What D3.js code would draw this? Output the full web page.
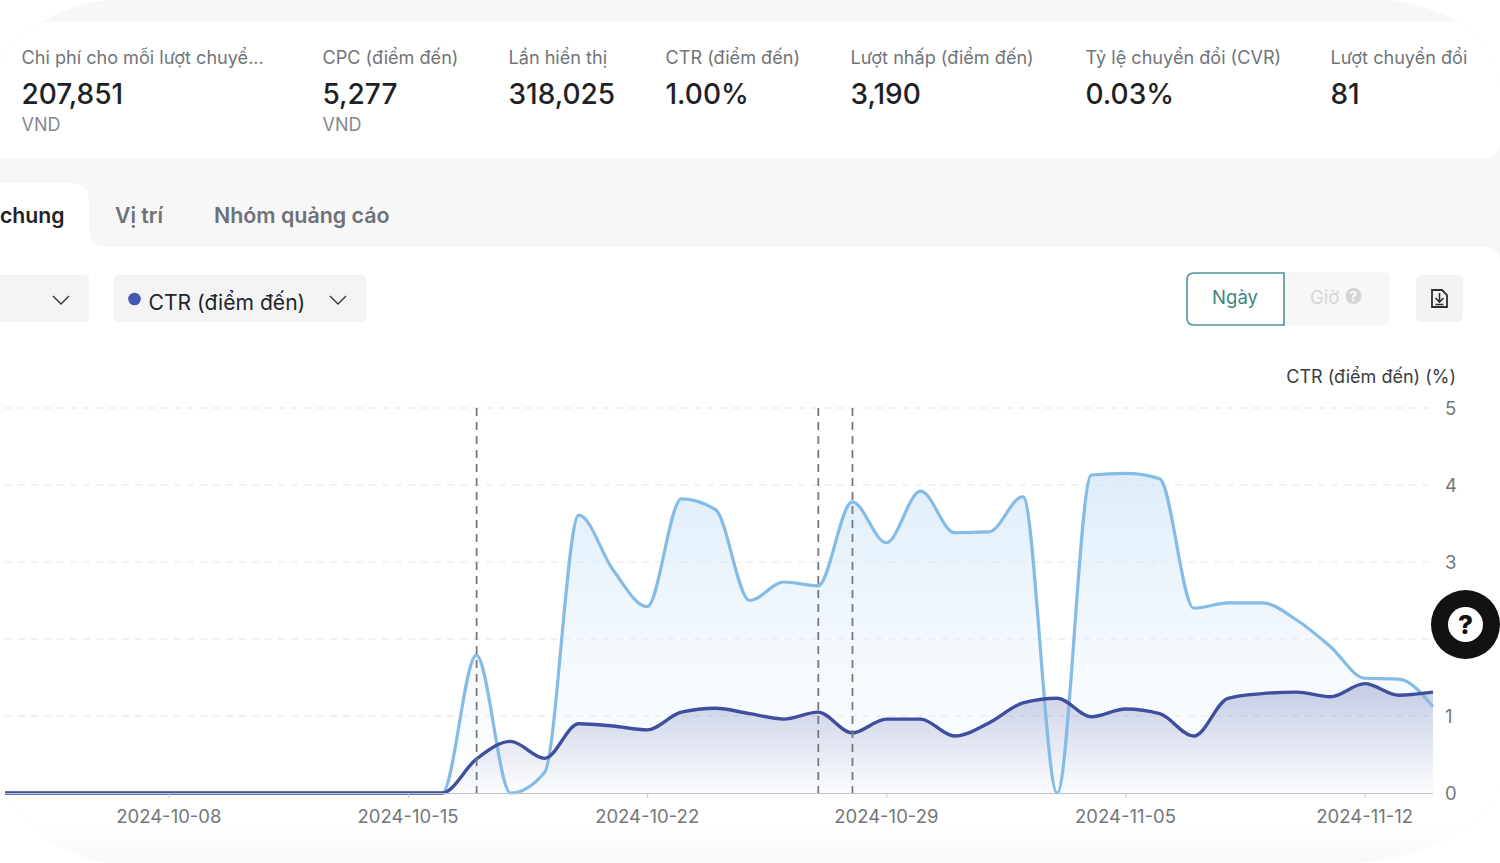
<!DOCTYPE html>
<html><head><meta charset="utf-8">
<script src="https://cdn.jsdelivr.net/npm/d3@7/dist/d3.min.js"></script>
<style>
html,body{margin:0;padding:0;background:#fff;overflow:hidden}
svg{display:block;font-family:Inter,"Noto Sans",sans-serif}
text{font-family:Inter,"Noto Sans",sans-serif}
.axis path,.axis line{fill:none}
</style></head><body>
<svg id="c" width="1500" height="863"></svg>
<script>
const dates=["2024-10-03","2024-10-04","2024-10-05","2024-10-06","2024-10-07","2024-10-08","2024-10-09","2024-10-10","2024-10-11","2024-10-12","2024-10-13","2024-10-14","2024-10-15","2024-10-16","2024-10-17","2024-10-18","2024-10-19","2024-10-20","2024-10-21","2024-10-22","2024-10-23","2024-10-24","2024-10-25","2024-10-26","2024-10-27","2024-10-28","2024-10-29","2024-10-30","2024-10-31","2024-11-01","2024-11-02","2024-11-03","2024-11-04","2024-11-05","2024-11-06","2024-11-07","2024-11-08","2024-11-09","2024-11-10","2024-11-11","2024-11-12","2024-11-13","2024-11-14"];
const lightSeries=[0,0,0,0,0,0,0,0,0,0,0,0,0,0,1.79,0,0.27,3.61,2.9,2.42,3.82,3.68,2.5,2.74,2.69,3.78,3.25,3.92,3.38,3.39,3.85,0,4.13,4.15,4.08,2.4,2.47,2.47,2.25,1.9,1.49,1.48,1.12];
const darkSeries=[0,0,0,0,0,0,0,0,0,0,0,0,0,0,0.44,0.67,0.45,0.9,0.87,0.82,1.05,1.1,1.03,0.96,1.05,0.78,0.96,0.96,0.74,0.91,1.17,1.23,0.99,1.09,1.03,0.74,1.23,1.29,1.31,1.25,1.42,1.27,1.31];
const xTicks=["2024-10-08","2024-10-15","2024-10-22","2024-10-29","2024-11-05","2024-11-12"];
const yTicks=[0,1,2,3,4,5];
const hoverDates=["2024-10-17","2024-10-27","2024-10-28"];
const stats=[["Chi phí cho mỗi lượt chuyể...","207,851","VND",22],["CPC (điểm đến)","5,277","VND",323],["Lần hiển thị","318,025","",509],["CTR (điểm đến)","1.00%","",666],["Lượt nhấp (điểm đến)","3,190","",851],["Tỷ lệ chuyển đổi (CVR)","0.03%","",1086],["Lượt chuyển đổi","81","",1331]];

const svg=d3.select("#c");
const defs=svg.append("defs");
const grad=(id,stops,y1,y2)=>{const g=defs.append("linearGradient").attr("id",id).attr("gradientUnits","userSpaceOnUse").attr("x1",0).attr("x2",0).attr("y1",y1).attr("y2",y2);
  stops.forEach(s=>g.append("stop").attr("offset",s[0]).attr("stop-color",s[1]).attr("stop-opacity",s[2]));};
const parse=d3.utcParse("%Y-%m-%d");
const x=d3.scaleUtc().domain([parse(dates[0]),parse(dates[dates.length-1])]).range([-2,1433]);
const y=d3.scaleLinear().domain([0,5]).range([793,408]);
grad("gl",[[0,"#cfe5f7",0.68],[1,"#eaf4fc",0.1]],y(4.15),793);
grad("gd",[[0,"#3f4f9f",0.27],[1,"#3f4f9f",0.01]],y(1.42),793);
grad("gb",[[0,"#ffffff",1],[1,"#f8f8f8",1]],828,863);
defs.append("clipPath").attr("id","pl").append("rect").attr("x",5).attr("y",400).attr("width",1432).attr("height",400);
defs.append("clipPath").attr("id","page").append("path").attr("d","M0 70 Q2 40 50 18 Q75 3 110 0 L1390 0 Q1440 8 1468 28 Q1500 60 1500 90 L1500 790 Q1480 830 1420 850 Q1385 863 1340 863 L110 863 Q60 855 30 825 Q8 805 0 780 Z");

const page=svg.append("g").attr("clip-path","url(#page)");
page.append("rect").attr("width",1500).attr("height",863).attr("fill","#f7f7f7");
page.append("rect").attr("x",-20).attr("y",22).attr("width",1520).attr("height",136.5).attr("rx",16).attr("fill","#fff");
page.append("rect").attr("x",-20).attr("y",247).attr("width",1520).attr("height",616).attr("rx",14).attr("fill","#fff");
page.append("rect").attr("x",0).attr("y",828).attr("width",1500).attr("height",35).attr("fill","url(#gb)");
page.append("path").attr("d","M0 183 L71 183 Q89 183 89 201 L89 229 Q89 247 107 247 L0 247 Z").attr("fill","#fff");

const txt=(s,px,py,size,fill,w,anchor)=>svg.append("text").attr("x",px).attr("y",py).attr("font-size",size).attr("fill",fill).attr("font-weight",w||400).attr("text-anchor",anchor||"start").text(s);
stats.forEach(d=>{
  txt(d[0],d[3]-0.5,64,18.1,"#70757a");
  txt(d[1],d[3]-0.5,104,28,"#1f2225",500);
  if(d[2])txt(d[2],d[3]-0.5,130.5,18,"#85898d");
});
txt("chung",0,223,21.2,"#1f2225",600);
txt("Vị trí",115,223,21.2,"#6e7276",600);
txt("Nhóm quảng cáo",214,223,21.4,"#6e7276",600);

svg.append("rect").attr("x",-10).attr("y",275).attr("width",99).attr("height",47).attr("rx",4).attr("fill","#f4f4f4");
svg.append("rect").attr("x",114).attr("y",275).attr("width",252).attr("height",47).attr("rx",4).attr("fill","#f4f4f4");
svg.append("circle").attr("cx",134.5).attr("cy",299).attr("r",6.3).attr("fill","#4558b5");
txt("CTR (điểm đến)",148.5,310,21.1,"#22252a");
[61,338].forEach(cx=>svg.append("path").attr("d",`M${cx-8} 296 L${cx} 304 L${cx+8} 296`).attr("fill","none").attr("stroke","#33373b").attr("stroke-width",1.4));

svg.append("rect").attr("x",1270).attr("y",272).attr("width",120).attr("height",53).attr("rx",6).attr("fill","#f7f7f7");
svg.append("path").attr("d","M1284 273 L1284 325 L1194 325 Q1187 325 1187 318 L1187 280 Q1187 273 1194 273 Z").attr("fill","#fff").attr("stroke","#4f9392").attr("stroke-width",1.6);
txt("Ngày",1235,304,18.5,"#3f8583",400,"middle");
txt("Giờ",1310,304,18.5,"#d4d6d8");
svg.append("circle").attr("cx",1353.5).attr("cy",296).attr("r",8).attr("fill","#d2d4d6");
txt("?",1353.5,301,13,"#fff",700,"middle");
svg.append("rect").attr("x",1416).attr("y",275).attr("width",47).attr("height",47).attr("rx",5).attr("fill","#f3f3f3");
svg.append("path").attr("d","M1432 290 L1442 290 L1447 295 L1447 307 L1432 307 Z").attr("fill","none").attr("stroke","#2d3033").attr("stroke-width",1.8);
svg.append("path").attr("d","M1439.5 293 L1439.5 301 M1435.5 298 L1439.5 302 L1443.5 298 M1435.5 304.5 L1443.5 304.5").attr("fill","none").attr("stroke","#2d3033").attr("stroke-width",1.6);

svg.append("g").selectAll("line").data(yTicks.filter(t=>t>0)).join("line")
  .attr("x1",5).attr("x2",1433).attr("y1",d=>y(d)).attr("y2",d=>y(d))
  .attr("stroke","#e6e6e6").attr("stroke-width",1.2).attr("stroke-dasharray","7 6");

const pts=s=>s.map((v,i)=>[parse(dates[i]),v]);
const curve=d3.curveMonotoneX;
const area=d3.area().x(d=>x(d[0])).y0(y(0)).y1(d=>y(d[1])).curve(curve);
const line=d3.line().x(d=>x(d[0])).y(d=>y(d[1])).curve(curve);
const plot=svg.append("g").attr("clip-path","url(#pl)");
plot.append("path").attr("d",area(pts(lightSeries))).attr("fill","url(#gl)");
plot.append("path").attr("d",area(pts(darkSeries))).attr("fill","url(#gd)");

const ax=svg.append("g").attr("class","axis").attr("transform","translate(0,793)")
  .call(d3.axisBottom(x).tickValues(xTicks.map(parse)).tickFormat(d3.utcFormat("%Y-%m-%d")).tickSize(5).tickPadding(12));
ax.select(".domain").remove();
ax.selectAll("line").attr("stroke","#c4c6c8");
ax.selectAll("text").attr("font-size",18.5).attr("fill","#74777a").attr("font-family","Inter").attr("dx",-0.5);
svg.append("line").attr("x1",5).attr("x2",1433).attr("y1",793.5).attr("y2",793.5).attr("stroke","#bfc1c3").attr("stroke-width",1.2);
const ay=svg.append("g").attr("class","axis").attr("transform","translate(1433,0)")
  .call(d3.axisRight(y).tickValues(yTicks).tickFormat(d3.format("d")).tickSize(0).tickPadding(12));
ay.select(".domain").remove();
ay.selectAll("text").attr("font-size",18.5).attr("fill","#74777a").attr("font-family","Inter").attr("dy","0.32em").attr("transform","translate(0,1)");
txt("CTR (điểm đến) (%)",1456,383,18,"#3a3d40",400,"end");

svg.append("g").selectAll("line").data(hoverDates).join("line")
  .attr("x1",d=>x(parse(d))+0.3).attr("x2",d=>x(parse(d))+0.3).attr("y1",408).attr("y2",793)
  .attr("stroke","#77797c").attr("stroke-width",1.8).attr("stroke-dasharray","8 6");

plot.append("path").attr("d",line(pts(lightSeries))).attr("fill","none").attr("stroke","#85bce6").attr("stroke-width",3.2);
plot.append("path").attr("d",line(pts(darkSeries))).attr("fill","none").attr("stroke","#3f4f9f").attr("stroke-width",3.4);

svg.append("circle").attr("cx",1465.5).attr("cy",624.5).attr("r",34.5).attr("fill","#121212");
svg.append("circle").attr("cx",1465.5).attr("cy",624.5).attr("r",17.5).attr("fill","#fff");
txt("?",1465.5,634,26,"#121212",800,"middle");
</script>
</body></html>
